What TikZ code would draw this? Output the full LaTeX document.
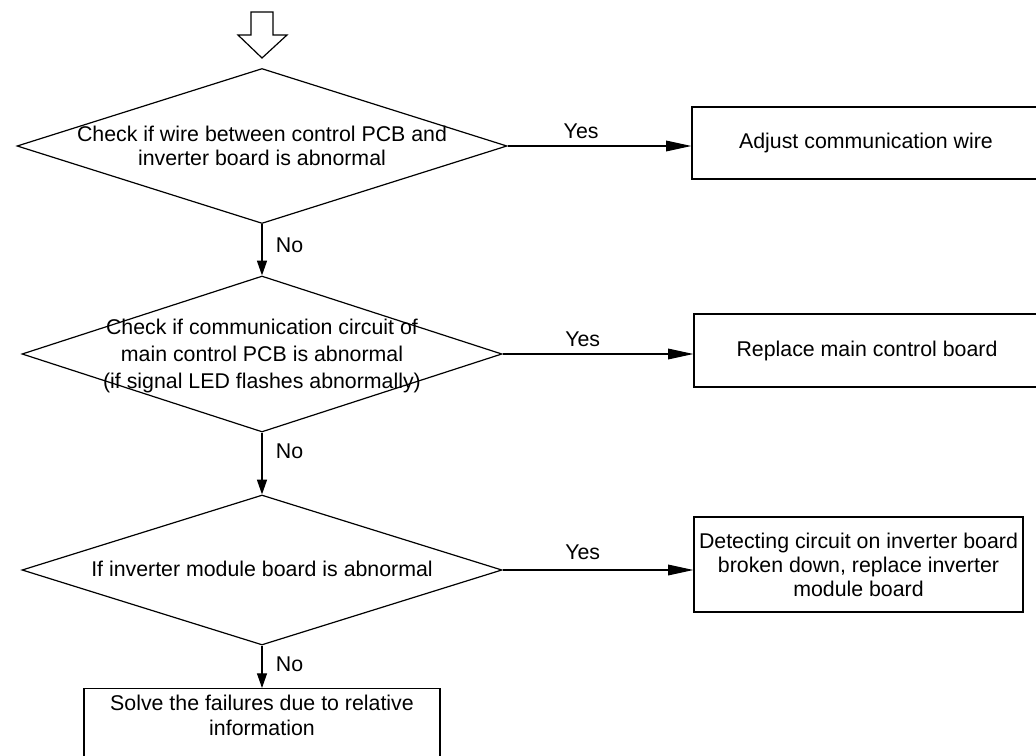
\documentclass[tikz,border=0pt]{standalone}
\usepackage{fontspec}
\setmainfont{Liberation Sans}
\usetikzlibrary{arrows.meta, positioning, shapes.geometric}

\begin{document}
\begin{tikzpicture}[x=0.75pt,y=-0.75pt,line width=0.9pt,
  font=\fontsize{16pt}{18pt}\selectfont,
  decision/.style={draw,shape=diamond,inner sep=0pt},
  dtext/.style={align=center,inner sep=0pt},
  action/.style={draw,align=center,inner sep=2pt},
  yesarrow/.style={-{Triangle[length=19pt,width=8pt]}},
  noarrow/.style={-{Triangle[length=11pt,width=7.5pt]}},
  lbl/.style={inner sep=2pt}]
\useasboundingbox (0,0) rectangle (1036,756);

% ===== entry arrow =====
\draw (251,12) -- (273,12) -- (273,35) -- (287,35) -- (262,58)
      -- (238,35) -- (251,35) -- cycle;

% ===== decisions =====
\node[decision,minimum width=367.5pt,minimum height=116.25pt] (d1) at (262,146) {};
\node[dtext] (d1t) at (262,146)
   {Check if wire between control PCB and\\inverter board is abnormal};

\node[decision,minimum width=360pt,minimum height=117pt] (d2) at (262,354) {};
\node[dtext,font=\fontsize{16pt}{20.6pt}\selectfont] (d2t) at (262,356)
   {Check if communication circuit of\\main control PCB is abnormal\\(if signal LED flashes abnormally)};

\node[decision,minimum width=360pt,minimum height=112.5pt] (d3) at (262,570) {};
\node[dtext] (d3t) at (262,569) {If inverter module board is abnormal};

% ===== actions =====
\node[action,minimum width=261pt,minimum height=54pt] (b1) at (866,143)
   {Adjust communication wire};
\node[action,minimum width=259.5pt,minimum height=54.75pt] (b2) at (867,350.5)
   {Replace main control board};
\node[action,minimum width=246.75pt,minimum height=71.25pt] (b3) at (858.5,564.5)
   {Detecting circuit on inverter board\\broken down, replace inverter\\module board};
\node[action,anchor=north,minimum width=267pt,inner ysep=4.5pt,text depth=45pt,
      font=\fontsize{16pt}{18.75pt}\selectfont] (b4) at (262,688)
   {Solve the failures due to relative\\information};

% ===== connectors =====
\draw[yesarrow] (d1.east) -- node[lbl,above=3pt,pos=0.4] {Yes} (d1.east -| b1.west);
\draw[yesarrow] (d2.east) -- node[lbl,above=3pt,pos=0.42] {Yes} (d2.east -| b2.west);
\draw[yesarrow] (d3.east) -- node[lbl,above=5pt,pos=0.42] {Yes} (d3.east -| b3.west);

\draw[noarrow] (d1.south) -- node[lbl,right=8pt,pos=0.42] {No} (d2.north);
\draw[noarrow] (d2.south) -- node[lbl,right=8pt,pos=0.3] {No} (d3.north);
\draw[noarrow] (d3.south) -- node[lbl,right=8pt,pos=0.45] {No} (b4.north);
\end{tikzpicture}
\end{document}
